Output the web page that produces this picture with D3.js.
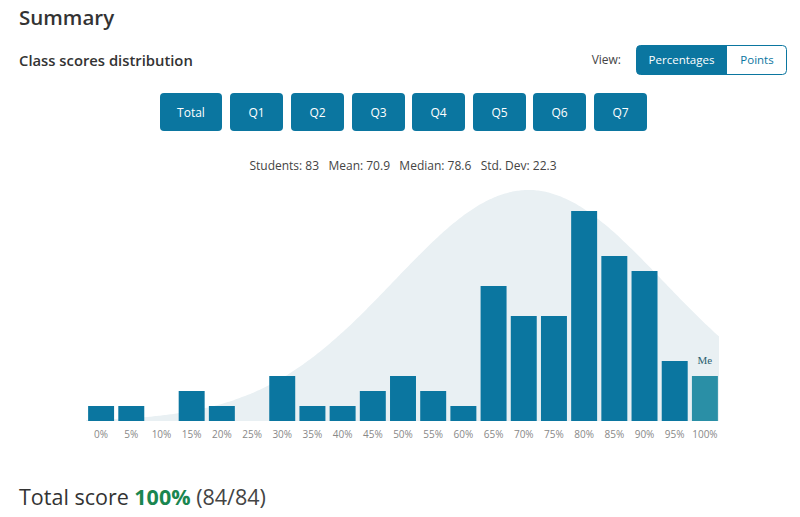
<!DOCTYPE html>
<html>
<head>
<meta charset="utf-8">
<script src="https://cdn.jsdelivr.net/npm/d3@7"></script>
<style>
  body { margin: 0; background: #fff; font-family: "Open Sans", "Noto Sans", sans-serif; color: #333; }
  #page { position: relative; width: 800px; height: 517px; overflow: hidden; }
</style>
</head>
<body>
<div id="page"></div>
<script>
// bins of the class score histogram (percent) and the student count in each
const bins = ["0%", "5%", "10%", "15%", "20%", "25%", "30%", "35%", "40%", "45%", "50%",
              "55%", "60%", "65%", "70%", "75%", "80%", "85%", "90%", "95%", "100%"];
const counts = [1, 1, 0, 2, 1, 0, 3, 1, 1, 2, 3, 2, 1, 9, 7, 7, 14, 11, 10, 4, 3];
const myBin = "100%";
const questions = ["Total", "Q1", "Q2", "Q3", "Q4", "Q5", "Q6", "Q7"];
const views = ["Percentages", "Points"];
const stats = [["Students", "83"], ["Mean", "70.9"], ["Median", "78.6"], ["Std. Dev", "22.3"]];
const mean = 70.9, sd = 22.3;

const width = 800, height = 517;
const blue = "#0b76a0";

const svg = d3.select("#page").append("svg")
    .attr("width", width)
    .attr("height", height)
    .attr("viewBox", [0, 0, width, height]);

// headings
svg.append("text")
    .attr("x", 19).attr("y", 25)
    .attr("font-size", 20.5).attr("font-weight", 600)
    .attr("fill", "#333")
    .text("Summary");

svg.append("text")
    .attr("x", 19).attr("y", 66)
    .attr("font-size", 14.8).attr("font-weight", 600)
    .attr("fill", "#333")
    .text("Class scores distribution");

// view toggle
svg.append("text")
    .attr("x", 621).attr("y", 64)
    .attr("text-anchor", "end")
    .attr("font-size", 12).attr("fill", "#444")
    .text("View:");

const vx = d3.scaleOrdinal().domain(views).range([636, 727]);
const vw = d3.scaleOrdinal().domain(views).range([91, 60]);
const vg = svg.append("g");
vg.append("rect")
    .attr("x", 636.5).attr("y", 45.5)
    .attr("width", 150).attr("height", 29)
    .attr("rx", 4)
    .attr("fill", "#fff").attr("stroke", "#0b76a0");
vg.append("path")
    .attr("d", "M640.5,45.5 H727 V74.5 H640.5 A4,4 0 0 1 636.5,70.5 V49.5 A4,4 0 0 1 640.5,45.5 Z")
    .attr("fill", blue);
vg.selectAll("text")
    .data(views)
    .join("text")
    .attr("x", d => vx(d) + vw(d) / 2)
    .attr("y", 64)
    .attr("text-anchor", "middle")
    .attr("font-size", 11.5)
    .attr("fill", (d, i) => i === 0 ? "#fff" : "#0b76a0")
    .text(d => d);

// question buttons
const bx = d3.scaleOrdinal().domain(questions)
    .range([160, 230, 291, 352, 412, 473, 533, 594]);
const bw = d => d === "Total" ? 62 : 53;
const btn = svg.append("g").selectAll("g")
    .data(questions)
    .join("g")
    .attr("transform", d => `translate(${bx(d)},93)`);
btn.append("rect")
    .attr("width", bw).attr("height", 38)
    .attr("rx", 4)
    .attr("fill", blue);
btn.append("text")
    .attr("x", d => bw(d) / 2).attr("y", 24)
    .attr("text-anchor", "middle")
    .attr("font-size", 12)
    .attr("fill", "#fff")
    .text(d => d);

// stats line
svg.append("text")
    .attr("x", 403).attr("y", 170)
    .attr("text-anchor", "middle")
    .attr("font-size", 12).attr("fill", "#444")
    .attr("xml:space", "preserve")
    .text(stats.map(([k, v]) => `${k}: ${v}`).join("   "));

// chart scales
const baseline = 421;
const x = d3.scaleBand().domain(bins).range([86, 720]).paddingInner(0.14).paddingOuter(0.07);
const y = d3.scaleLinear().domain([0, 14]).range([baseline, 211]);

// normal curve behind bars
const xc = d3.scaleLinear().domain([-2.5, 102.5]).range([86, 719]);
const pdf = v => Math.exp(-0.5 * ((v - mean) / sd) ** 2);
const yc = d3.scaleLinear().domain([0, 1]).range([baseline, 190]);
const pts = d3.range(-2.5, 102.51, 0.5);
svg.append("path")
    .datum(pts)
    .attr("fill", "#e9f0f3")
    .attr("d", d3.area().x(d => xc(d)).y0(baseline).y1(d => yc(pdf(d))).curve(d3.curveBasis));

// bars
svg.append("g")
    .selectAll("rect")
    .data(bins)
    .join("rect")
    .attr("x", d => x(d))
    .attr("y", (d, i) => y(counts[i]))
    .attr("width", x.bandwidth())
    .attr("height", (d, i) => baseline - y(counts[i]))
    .attr("fill", d => d === myBin ? "#2a8fa6" : blue);

svg.append("text")
    .attr("x", x(myBin) + x.bandwidth() / 2)
    .attr("y", y(counts[bins.indexOf(myBin)]) - 12)
    .attr("text-anchor", "middle")
    .attr("font-family", "'Liberation Serif', 'DejaVu Serif', serif")
    .attr("font-size", 11)
    .attr("fill", "#2a6070")
    .text("Me");

// x axis
const ax = svg.append("g")
    .attr("transform", `translate(0,${baseline})`)
    .call(d3.axisBottom(x).tickSize(0).tickPadding(10))
    .call(g => g.select(".domain").remove());
ax.selectAll("text")
    .attr("font-family", "'Open Sans', sans-serif")
    .attr("font-size", 10)
    .attr("fill", "#888");

// total score
const ts = svg.append("text")
    .attr("x", 19).attr("y", 505)
    .attr("font-size", 21.5)
    .attr("fill", "#333");
ts.append("tspan").text("Total score ");
ts.append("tspan").attr("font-weight", 700).attr("fill", "#1a8650").text("100%");
ts.append("tspan").attr("fill", "#444").text(" (84/84)");
</script>
</body>
</html>
